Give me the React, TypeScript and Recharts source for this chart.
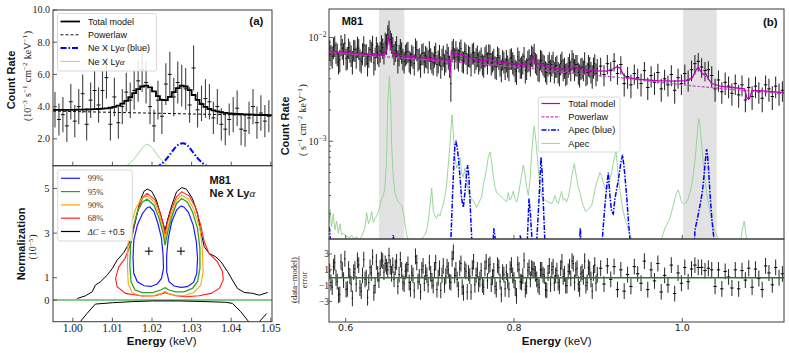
import React from 'react';
import { ComposedChart, Line, Scatter, XAxis, YAxis, ErrorBar, ReferenceArea, ReferenceLine } from 'recharts';

const W = 789;
const H = 353;
const SANS = '"Liberation Sans", Arial, sans-serif';
const SERIF = '"Liberation Serif", "DejaVu Serif", serif';
const DSANS = '"DejaVu Sans", sans-serif';

// ================= Panel (a) top: Ne X Ly-alpha zoom =================
const aE = [0.9955, 0.9965, 0.9975, 0.9985, 0.9995, 1.0005, 1.0015, 1.0025, 1.0035, 1.0045,
  1.0055, 1.0065, 1.0075, 1.0085, 1.0095, 1.0105, 1.0115, 1.0125, 1.0135, 1.0145,
  1.0155, 1.0165, 1.0175, 1.0185, 1.0195, 1.0205, 1.0215, 1.0225, 1.0235, 1.0245,
  1.0255, 1.0265, 1.0275, 1.0285, 1.0295, 1.0305, 1.0315, 1.0325, 1.0335, 1.0345,
  1.0355, 1.0365, 1.0375, 1.0385, 1.0395, 1.0405, 1.0415, 1.0425, 1.0435, 1.0445,
  1.0455, 1.0465, 1.0475, 1.0485, 1.0495];
const aRate = [3.8, 3.2, 3.5, 2.8, 4.3, 3.1, 4.0, 4.8, 2.9, 4.4,
  5.0, 4.1, 5.0, 5.8, 2.9, 4.6, 3.0, 4.0, 4.9, 4.4,
  5.0, 5.6, 6.3, 5.5, 4.0, 2.8, 4.4, 3.4, 5.4, 6.0,
  4.6, 5.5, 5.3, 5.1, 4.1, 6.4, 3.8, 4.2, 4.5, 4.3,
  3.3, 4.0, 2.9, 2.6, 3.2, 3.5, 3.9, 2.6, 2.5, 3.3,
  4.0, 3.0, 3.6, 3.1, 3.4];
const aErr = [1.1, 1.0, 1.1, 1.0, 1.1, 1.0, 1.1, 1.2, 1.0, 1.1,
  1.2, 1.1, 1.2, 1.3, 1.0, 1.2, 1.0, 1.1, 1.2, 1.1,
  1.2, 1.3, 1.4, 1.3, 1.1, 1.0, 1.2, 1.1, 1.3, 1.4,
  1.2, 1.3, 1.3, 1.3, 1.1, 1.4, 1.1, 1.1, 1.2, 1.1,
  1.0, 1.1, 1.0, 1.0, 1.0, 1.1, 1.1, 1.0, 1.0, 1.0,
  1.1, 1.0, 1.1, 1.0, 1.0];
const aHalfBin = 0.0005;
const aModel = [3.80, 3.80, 3.80, 3.80, 3.80, 3.80, 3.81, 3.81, 3.82, 3.83,
  3.84, 3.85, 3.87, 3.89, 3.93, 3.98, 4.06, 4.18, 4.36, 4.58,
  4.84, 5.08, 5.25, 5.30, 5.20, 4.95, 4.65, 4.42, 4.40, 4.60,
  4.90, 5.15, 5.30, 5.25, 5.02, 4.72, 4.42, 4.16, 3.98, 3.85,
  3.76, 3.70, 3.65, 3.61, 3.58, 3.56, 3.54, 3.53, 3.52, 3.51,
  3.50, 3.49, 3.48, 3.48, 3.47];
const aPow: [number, number][] = [[0.995, 3.72], [1.0505, 3.44]];
const aGreen: [number, number][] = [[1.0130, 0.2], [1.0140, 0.40], [1.0150, 0.62], [1.0160, 0.92], [1.0170, 1.25], [1.0180, 1.55], [1.0187, 1.66], [1.0195, 1.58], [1.0205, 1.30], [1.0215, 0.95], [1.0225, 0.65], [1.0235, 0.42], [1.0245, 0.25]];
const aBlue: [number, number][] = [[1.0210, 0.2], [1.0222, 0.40], [1.0232, 0.62], [1.0242, 0.92], [1.0252, 1.25], [1.0262, 1.55], [1.0270, 1.68], [1.0278, 1.72], [1.0288, 1.62], [1.0298, 1.35], [1.0308, 1.02], [1.0318, 0.72], [1.0328, 0.48], [1.0338, 0.32], [1.0348, 0.2]];
const aXTicks = [1.0, 1.01, 1.02, 1.03, 1.04, 1.05];
const aYTicks = [2, 4, 6, 8, 10];

// ================= Panel (a) bottom: contours =================
const c99L: [number, number][] = [[1.0194, 4.18], [1.0205, 3.96], [1.0215, 3.43], [1.0224, 2.76], [1.0228, 2.01], [1.0229, 1.42], [1.0224, 0.97], [1.0213, 0.72], [1.0197, 0.61], [1.0180, 0.64], [1.0163, 0.82], [1.0154, 1.19], [1.0152, 1.87], [1.0154, 2.69], [1.0163, 3.36], [1.0176, 3.88], [1.0187, 4.13], [1.0194, 4.18]];
const c99R: [number, number][] = [[1.0273, 4.22], [1.0281, 4.16], [1.0292, 3.93], [1.0304, 3.36], [1.0312, 2.61], [1.0315, 1.87], [1.0313, 1.19], [1.0305, 0.79], [1.0289, 0.60], [1.0273, 0.57], [1.0256, 0.63], [1.0243, 0.82], [1.0237, 1.27], [1.0237, 2.01], [1.0241, 2.76], [1.0250, 3.51], [1.0262, 4.03], [1.0273, 4.22]];
const c95: [number, number][] = [[1.0188, 4.52], [1.0205, 4.25], [1.0218, 3.66], [1.0228, 2.99], [1.0233, 2.46], [1.0239, 2.99], [1.0250, 3.73], [1.0262, 4.33], [1.0275, 4.55], [1.0289, 4.40], [1.0302, 3.96], [1.0315, 3.21], [1.0321, 2.31], [1.0321, 1.42], [1.0315, 0.82], [1.0302, 0.52], [1.0281, 0.37], [1.0260, 0.37], [1.0243, 0.45], [1.0233, 0.55], [1.0222, 0.45], [1.0201, 0.33], [1.0176, 0.33], [1.0157, 0.45], [1.0147, 0.82], [1.0144, 1.57], [1.0146, 2.46], [1.0152, 3.21], [1.0163, 3.96], [1.0176, 4.40], [1.0188, 4.52]];
const c90: [number, number][] = [[1.0188, 4.66], [1.0207, 4.37], [1.0219, 3.81], [1.0229, 3.13], [1.0233, 2.69], [1.0238, 3.13], [1.0249, 3.88], [1.0262, 4.48], [1.0275, 4.70], [1.0292, 4.52], [1.0306, 4.03], [1.0321, 3.21], [1.0327, 2.31], [1.0329, 1.27], [1.0323, 0.67], [1.0306, 0.34], [1.0281, 0.19], [1.0256, 0.22], [1.0241, 0.30], [1.0233, 0.40], [1.0224, 0.30], [1.0201, 0.18], [1.0171, 0.19], [1.0150, 0.33], [1.0140, 0.75], [1.0138, 1.57], [1.0139, 2.46], [1.0146, 3.28], [1.0159, 4.10], [1.0174, 4.55], [1.0188, 4.66]];
const c68: [number, number][] = [[1.0188, 4.78], [1.0208, 4.48], [1.0220, 3.96], [1.0229, 3.36], [1.0233, 2.91], [1.0237, 3.36], [1.0248, 4.03], [1.0262, 4.63], [1.0275, 4.85], [1.0294, 4.67], [1.0309, 4.18], [1.0323, 3.36], [1.0332, 2.61], [1.0344, 2.09], [1.0365, 1.72], [1.0378, 1.27], [1.0380, 0.90], [1.0370, 0.52], [1.0349, 0.30], [1.0319, 0.19], [1.0285, 0.15], [1.0260, 0.19], [1.0233, 0.33], [1.0209, 0.19], [1.0176, 0.18], [1.0133, 0.30], [1.0112, 0.60], [1.0108, 0.97], [1.0116, 1.49], [1.0132, 1.87], [1.0142, 2.31], [1.0150, 2.84], [1.0157, 3.51], [1.0167, 4.18], [1.0177, 4.60], [1.0188, 4.78]];
const cDCup: [number, number][] = [[1.0011, 0.07], [1.0032, 0.19], [1.0049, 0.37], [1.0057, 0.67], [1.0070, 0.82], [1.0087, 1.12], [1.0100, 1.42], [1.0112, 1.79], [1.0129, 2.13], [1.0142, 2.54], [1.0152, 3.06], [1.0160, 3.66], [1.0169, 4.40], [1.0180, 4.88], [1.0188, 4.97], [1.0199, 4.88], [1.0211, 4.48], [1.0222, 3.81], [1.0233, 3.13], [1.0239, 3.58], [1.0250, 4.25], [1.0262, 4.85], [1.0275, 5.04], [1.0287, 4.97], [1.0302, 4.55], [1.0315, 3.88], [1.0323, 3.06], [1.0332, 2.39], [1.0344, 2.09], [1.0361, 1.94], [1.0374, 1.72], [1.0391, 1.27], [1.0403, 0.90], [1.0416, 0.52], [1.0433, 0.34], [1.0454, 0.30], [1.0471, 0.22], [1.0492, 0.34]];
const cDClow: [number, number | null][] = [[1.0019, -0.97], [1.0036, -0.60], [1.0057, -0.18], [1.0100, -0.12], [1.0150, -0.07], [1.0201, -0.04], [1.0268, -0.04], [1.0336, -0.07], [1.0386, -0.10], [1.0403, -0.15], [1.0424, -0.52], [1.0441, -0.90], [1.0446, -1.0], [1.0458, null], [1.0471, -0.97], [1.0489, -0.61]];
const bestFit: [number, number][] = [[1.0192, 2.19], [1.0273, 2.19]];
const aBotYTicks = [0, 1, 3, 5];

// ================= Panel (b): M81 RGS spectrum (units of 1e-3) =================
// coarse-grid bins
const bE = [0.581, 0.584, 0.587, 0.590, 0.593, 0.596, 0.599, 0.602, 0.605, 0.608,
  0.611, 0.614, 0.617, 0.620, 0.623, 0.626, 0.629, 0.632, 0.635, 0.638,
  0.641, 0.644, 0.647, 0.650, 0.653, 0.656, 0.659, 0.662, 0.665, 0.668,
  0.671, 0.674, 0.677, 0.680, 0.683, 0.686, 0.689, 0.692, 0.695, 0.698,
  0.701, 0.704, 0.707, 0.710, 0.713, 0.716, 0.719, 0.722, 0.725, 0.728,
  0.731, 0.734, 0.737, 0.740, 0.743, 0.746, 0.749, 0.752, 0.755, 0.758,
  0.761, 0.764, 0.767, 0.770, 0.773, 0.776, 0.779, 0.782, 0.785, 0.788,
  0.791, 0.794, 0.797, 0.800, 0.803, 0.806, 0.809, 0.812, 0.815, 0.818,
  0.821, 0.824, 0.827, 0.830, 0.833, 0.836, 0.839, 0.842, 0.845, 0.848,
  0.851, 0.854, 0.857, 0.860, 0.863, 0.866, 0.869, 0.872, 0.875, 0.878,
  0.881, 0.884, 0.887, 0.890, 0.893, 0.896, 0.899,
  0.903, 0.907, 0.911, 0.915, 0.919, 0.923, 0.927, 0.931, 0.935, 0.939,
  0.943, 0.947, 0.951, 0.955, 0.959, 0.963, 0.967, 0.971, 0.975, 0.979,
  0.983, 0.987, 0.991, 0.995, 0.999, 1.003, 1.007, 1.011, 1.015, 1.019,
  1.023, 1.027, 1.031, 1.035, 1.039, 1.043, 1.047, 1.051, 1.055, 1.059,
  1.063, 1.067, 1.071, 1.075, 1.079, 1.083, 1.087, 1.091, 1.095, 1.099,
  1.103, 1.107, 1.111, 1.115, 1.119];
const bRate = [7.8, 6.6, 8.4, 7.0, 6.1, 7.9, 8.8, 6.5, 7.4, 5.9,
  7.6, 8.3, 6.2, 7.1, 6.9, 5.6, 7.7, 8.5, 6.4, 7.2,
  7.4, 8.0, 9.1, 10.8, 9.6, 8.2, 7.5, 6.0, 7.9, 6.3,
  6.9, 7.4, 5.8, 6.6, 8.0, 6.2, 5.5, 7.1, 6.7, 6.0,
  6.4, 5.7, 7.2, 6.0, 5.3, 6.8, 6.1, 6.5, 3.6, 7.9,
  7.5, 6.2, 7.8, 5.9, 7.0, 6.8, 5.6, 7.2, 6.4, 5.8,
  6.5, 5.4, 6.9, 7.0, 5.7, 6.3, 5.2, 6.4, 4.9, 5.9,
  6.1, 5.0, 6.4, 5.5, 4.7, 6.0, 5.3, 6.6, 5.1, 6.2,
  6.8, 7.1, 5.6, 4.9, 6.0, 5.4, 4.6, 5.8, 5.5, 4.7,
  5.4, 4.5, 5.9, 5.2, 4.6, 5.7, 6.2, 5.0, 5.5, 4.4,
  5.2, 5.8, 4.6, 5.3, 4.3, 5.6, 5.0,
  5.3, 4.4, 5.6, 4.8, 5.9, 4.5, 5.5, 3.6, 4.2, 3.5,
  4.5, 4.1, 3.6, 4.8, 3.3, 4.3, 3.7, 4.6, 3.2, 4.0,
  3.5, 4.4, 3.1, 4.1, 3.6, 4.5, 3.9, 4.9, 5.6, 5.9,
  5.2, 4.8, 4.9, 4.3, 3.2, 3.9, 3.0, 3.7, 3.4, 2.9,
  3.6, 2.8, 3.5, 2.5, 3.3, 2.7, 3.4, 3.0, 2.6, 3.5,
  3.2, 2.7, 3.4, 2.9, 3.1];
const bErr = [1.8, 1.6, 1.9, 1.7, 1.5, 1.8, 2.0, 1.6, 1.7, 1.5,
  1.8, 1.9, 1.5, 1.7, 1.7, 1.4, 1.8, 1.9, 1.6, 1.7,
  1.7, 1.8, 2.0, 2.3, 2.1, 1.9, 1.7, 1.5, 1.8, 1.5,
  1.6, 1.7, 1.4, 1.6, 1.8, 1.5, 1.4, 1.7, 1.6, 1.5,
  1.5, 1.4, 1.7, 1.5, 1.3, 1.6, 1.5, 1.6, 1.2, 1.8,
  1.7, 1.5, 1.8, 1.4, 1.6, 1.6, 1.4, 1.7, 1.5, 1.4,
  1.5, 1.3, 1.6, 1.6, 1.4, 1.5, 1.3, 1.5, 1.2, 1.4,
  1.5, 1.2, 1.5, 1.3, 1.2, 1.4, 1.3, 1.5, 1.2, 1.5,
  1.6, 1.6, 1.3, 1.2, 1.4, 1.3, 1.1, 1.4, 1.3, 1.1,
  1.3, 1.1, 1.4, 1.2, 1.1, 1.3, 1.4, 1.2, 1.3, 1.1,
  1.2, 1.4, 1.1, 1.2, 1.1, 1.3, 1.2,
  1.1, 1.0, 1.2, 1.0, 1.2, 1.0, 1.1, 0.9, 1.0, 0.9,
  1.0, 0.9, 0.9, 1.0, 0.8, 1.0, 0.9, 1.0, 0.8, 0.9,
  0.8, 1.0, 0.8, 0.9, 0.8, 1.0, 0.9, 1.1, 1.2, 1.2,
  1.1, 1.0, 1.0, 1.0, 0.8, 0.9, 0.7, 0.9, 0.8, 0.7,
  0.8, 0.7, 0.8, 0.6, 0.8, 0.7, 0.8, 0.7, 0.7, 0.8,
  0.8, 0.7, 0.8, 0.7, 0.7];
const bRes = [0.8, -1.2, 1.9, -0.5, -2.1, 1.0, 2.4, -1.4, 0.2, -2.6,
  1.1, 2.2, -1.3, 0.3, -0.2, -2.5, 1.3, 2.6, -1.0, 0.5,
  1.2, 2.1, 1.8, 1.0, 1.4, 1.6, 1.3, -1.1, 2.3, -0.6,
  0.8, 1.7, -1.4, 0.3, 2.7, -0.5, -1.8, 1.5, 0.7, -0.9,
  0.5, -1.0, 1.9, 0.0, -1.6, 1.5, 0.2, 1.0, -0.6, 3.2,
  1.0, -1.5, 1.8, -1.9, 0.8, 0.6, -1.8, 2.0, 0.3, -0.8,
  0.9, -1.2, 2.0, 1.5, -0.8, 0.9, -1.5, 1.3, -2.1, 0.4,
  0.7, -1.5, 1.6, -0.3, -2.3, 1.0, -0.6, 2.2, -1.1, 1.3,
  1.2, 1.0, -0.2, -1.2, 1.0, 0.2, -1.6, 1.5, 1.0, -0.7,
  0.9, -1.1, 2.0, 0.5, -1.0, 1.4, 2.1, -0.6, 1.2, -1.4,
  0.7, 2.1, -0.6, 1.1, -1.7, 1.6, 0.4,
  1.2, -0.8, 1.5, -0.2, 1.4, -1.5, 1.0, -1.7, 0.4, -1.1,
  1.4, 0.5, -0.7, 2.1, -1.5, 1.0, -0.4, 1.8, -1.8, 0.3,
  -0.9, 1.6, -2.0, 0.6, -0.7, 1.3, -0.5, 1.1, 1.6, 1.3,
  1.3, 0.9, 1.2, 1.0, -1.1, 1.0, -1.4, 0.8, 0.1, -1.3,
  1.0, -1.4, 0.9, -0.3, 1.2, -1.2, 1.1, -0.1, -1.5, 1.5,
  0.6, -0.9, 1.3, 0.0, 0.5];
// interleaved fine bins (0.58 - 0.90 keV)
const bE2 = [0.5825, 0.5855, 0.5885, 0.5915, 0.5945, 0.5975, 0.6005, 0.6035, 0.6065, 0.6095,
  0.6125, 0.6155, 0.6185, 0.6215, 0.6245, 0.6275, 0.6305, 0.6335, 0.6365, 0.6395,
  0.6425, 0.6455, 0.6485, 0.6515, 0.6545, 0.6575, 0.6605, 0.6635, 0.6665, 0.6695,
  0.6725, 0.6755, 0.6785, 0.6815, 0.6845, 0.6875, 0.6905, 0.6935, 0.6965, 0.6995,
  0.7025, 0.7055, 0.7085, 0.7115, 0.7145, 0.7175, 0.7205, 0.7235, 0.7265, 0.7295,
  0.7325, 0.7355, 0.7385, 0.7415, 0.7445, 0.7475, 0.7505, 0.7535, 0.7565, 0.7595,
  0.7625, 0.7655, 0.7685, 0.7715, 0.7745, 0.7775, 0.7805, 0.7835, 0.7865, 0.7895,
  0.7925, 0.7955, 0.7985, 0.8015, 0.8045, 0.8075, 0.8105, 0.8135, 0.8165, 0.8195,
  0.8225, 0.8255, 0.8285, 0.8315, 0.8345, 0.8375, 0.8405, 0.8435, 0.8465, 0.8495,
  0.8525, 0.8555, 0.8585, 0.8615, 0.8645, 0.8675, 0.8705, 0.8735, 0.8765, 0.8795,
  0.8825, 0.8855, 0.8885, 0.8915, 0.8945, 0.8975];
const bRate2 = [6.9, 8.1, 7.3, 5.8, 8.6, 7.1, 6.3, 8.0, 6.8, 7.7,
  6.5, 7.9, 5.9, 8.4, 7.0, 6.6, 7.4, 5.7, 8.2, 6.8,
  8.6, 7.2, 8.8, 12.0, 9.0, 7.0, 8.4, 6.9, 7.3, 5.9,
  7.2, 6.0, 6.9, 5.6, 7.6, 6.4, 7.0, 5.9, 6.5, 7.5,
  5.9, 6.7, 5.5, 6.9, 6.3, 5.6, 7.1, 5.4, 7.5, 6.4,
  6.5, 7.4, 6.0, 7.3, 5.7, 6.6, 7.1, 5.9, 6.8, 6.1,
  5.6, 6.6, 5.8, 6.9, 6.0, 5.3, 6.7, 5.5, 6.2, 5.1,
  5.4, 6.3, 5.8, 4.9, 6.5, 5.2, 5.7, 4.8, 6.0, 5.5,
  6.6, 5.8, 5.0, 6.2, 5.6, 4.8, 5.5, 4.9, 5.9, 5.3,
  4.7, 5.6, 5.0, 4.5, 5.3, 4.9, 5.8, 5.5, 4.6, 5.1,
  4.9, 4.4, 5.5, 4.7, 5.2, 4.5];
const bErr2 = [1.6, 1.9, 1.7, 1.4, 2.0, 1.7, 1.5, 1.8, 1.6, 1.8,
  1.5, 1.8, 1.4, 1.9, 1.6, 1.5, 1.7, 1.4, 1.9, 1.6,
  1.9, 1.7, 2.0, 2.5, 2.0, 1.6, 1.9, 1.6, 1.7, 1.4,
  1.7, 1.4, 1.6, 1.3, 1.7, 1.5, 1.6, 1.4, 1.5, 1.7,
  1.4, 1.6, 1.3, 1.6, 1.5, 1.3, 1.6, 1.3, 1.7, 1.5,
  1.5, 1.7, 1.4, 1.7, 1.3, 1.5, 1.6, 1.4, 1.6, 1.4,
  1.3, 1.5, 1.4, 1.6, 1.4, 1.3, 1.5, 1.3, 1.4, 1.2,
  1.3, 1.4, 1.4, 1.2, 1.5, 1.2, 1.3, 1.2, 1.4, 1.3,
  1.5, 1.3, 1.2, 1.4, 1.3, 1.1, 1.3, 1.2, 1.4, 1.2,
  1.1, 1.3, 1.2, 1.1, 1.2, 1.1, 1.3, 1.3, 1.1, 1.2,
  1.1, 1.0, 1.3, 1.1, 1.2, 1.1];
const bRes2 = [-0.6, 1.4, 0.0, -2.2, 2.0, -0.3, -1.5, 1.1, -0.8, 0.7,
  -0.8, 1.6, -1.7, 2.3, 0.0, -0.6, 0.6, -1.9, 2.0, -0.3,
  2.3, 0.7, 1.4, 2.8, 0.5, -0.2, 2.0, 0.4, 1.0, -0.8,
  1.0, -0.6, 0.6, -1.6, 1.9, 0.1, 1.0, -0.7, 0.3, 1.9,
  -0.4, 1.0, -1.5, 1.2, 0.3, -0.9, 1.4, -0.5, 2.4, 0.3,
  -0.2, 1.2, -1.2, 1.1, -1.8, 0.2, 1.2, -0.9, 1.0, -0.2,
  -0.9, 1.2, -0.4, 1.7, 0.1, -1.1, 1.6, -0.5, 0.7, -1.4,
  -0.4, 1.1, 0.3, -1.3, 1.7, -0.5, 0.2, -1.5, 0.9, -0.2,
  1.1, 0.5, -0.9, 1.0, 0.4, -1.5, 0.6, -0.8, 1.4, 0.3,
  -0.6, 1.2, 0.1, -1.0, 0.8, -0.1, 1.8, 1.0, -0.8, 0.5,
  0.1, -1.0, 1.3, -0.2, 0.6, -0.7];
const bHalfBinLow = 0.00075;
const bHalfBinHigh = 0.002;
const bPow: [number, number][] = [[0.58, 7.2], [0.65, 6.5], [0.7235, 5.85], [0.7245, 4.3], [0.7255, 5.85], [0.80, 5.25], [0.85, 4.7], [0.92, 4.15], [1.0, 3.5], [1.06, 3.15], [1.121, 2.88]];
const bTot: [number, number][] = [[0.58, 7.35], [0.60, 7.15], [0.62, 6.95], [0.640, 6.78], [0.646, 6.75], [0.649, 7.6], [0.651, 10.3], [0.653, 8.6], [0.655, 7.3], [0.658, 6.85], [0.670, 6.65], [0.690, 6.4], [0.710, 6.15], [0.7235, 6.0], [0.7245, 4.6], [0.7255, 7.3], [0.728, 6.8], [0.731, 7.0], [0.735, 6.7], [0.738, 6.9], [0.742, 6.5], [0.75, 6.3], [0.76, 6.0], [0.768, 6.0], [0.771, 6.4], [0.775, 5.9], [0.79, 5.7], [0.81, 5.5], [0.818, 5.6], [0.823, 6.4], [0.826, 5.7], [0.84, 5.2], [0.855, 4.95], [0.868, 5.0], [0.872, 5.3], [0.876, 5.0], [0.89, 4.8], [0.91, 4.75], [0.918, 5.0], [0.922, 5.2], [0.926, 5.1], [0.93, 4.4], [0.934, 4.1], [0.95, 3.95], [0.97, 3.85], [0.99, 3.8], [1.005, 3.85], [1.012, 4.1], [1.016, 4.8], [1.019, 5.2], [1.022, 4.7], [1.025, 4.4], [1.028, 4.5], [1.031, 4.0], [1.035, 3.6], [1.045, 3.4], [1.06, 3.3], [1.074, 3.2], [1.077, 2.6], [1.080, 2.6], [1.083, 3.1], [1.1, 3.05], [1.121, 2.95]];
const bGreen: [number, number][] = [[0.5802, 0.16], [0.5814, 0.22], [0.5833, 0.15], [0.5853, 0.20], [0.5873, 0.14], [0.5893, 0.17], [0.5913, 0.13], [0.5933, 0.16], [0.5952, 0.125], [0.5972, 0.13], [0.6012, 0.12], [0.6052, 0.118], [0.6071, 0.125], [0.6091, 0.115], [0.6131, 0.12], [0.6150, 0.112], [0.6190, 0.12], [0.6230, 0.15], [0.6250, 0.205], [0.6270, 0.16], [0.6289, 0.175], [0.6309, 0.21], [0.6329, 0.165], [0.6348, 0.18], [0.6368, 0.19], [0.6388, 0.21], [0.6408, 0.24], [0.6428, 0.28], [0.6448, 0.30], [0.6467, 0.36], [0.6487, 0.70], [0.6499, 2.2], [0.6519, 4.2], [0.6535, 2.5], [0.6547, 0.9], [0.6566, 0.45], [0.6586, 0.32], [0.6606, 0.28], [0.6626, 0.26], [0.6645, 0.25], [0.6665, 0.24], [0.6685, 0.21], [0.6705, 0.16], [0.6725, 0.125], [0.6745, 0.11], [0.6785, 0.10], [0.6823, 0.105], [0.6863, 0.11], [0.6903, 0.112], [0.6923, 0.12], [0.6943, 0.125], [0.6963, 0.14], [0.6982, 0.17], [0.7002, 0.24], [0.7022, 0.355], [0.7042, 0.21], [0.7062, 0.19], [0.7081, 0.18], [0.7101, 0.2], [0.7121, 0.19], [0.7141, 0.22], [0.7161, 0.25], [0.7181, 0.3], [0.7200, 0.38], [0.7220, 0.6], [0.7240, 0.95], [0.7260, 1.65], [0.7265, 1.8], [0.7279, 1.2], [0.7299, 0.7], [0.7319, 0.55], [0.7339, 0.6], [0.7359, 0.7], [0.7378, 0.5], [0.7398, 0.45], [0.7418, 0.55], [0.7438, 0.45], [0.7458, 0.32], [0.7497, 0.28], [0.7537, 0.25], [0.7557, 0.23], [0.7577, 0.25], [0.7616, 0.29], [0.7636, 0.38], [0.7656, 0.45], [0.7675, 0.55], [0.7695, 0.7], [0.7715, 0.79], [0.7735, 0.63], [0.7755, 0.45], [0.7775, 0.36], [0.7795, 0.32], [0.7814, 0.31], [0.7854, 0.29], [0.7893, 0.27], [0.7913, 0.26], [0.7933, 0.32], [0.7953, 0.27], [0.7972, 0.29], [0.7992, 0.33], [0.8012, 0.28], [0.8032, 0.26], [0.8052, 0.30], [0.8072, 0.38], [0.8092, 0.48], [0.8111, 0.59], [0.8131, 0.48], [0.8151, 0.36], [0.8171, 0.30], [0.8190, 0.42], [0.8210, 0.75], [0.8230, 1.2], [0.8242, 1.4], [0.8250, 1.2], [0.8270, 0.85], [0.8290, 0.52], [0.8309, 0.36], [0.8329, 0.30], [0.8349, 0.28], [0.8369, 0.27], [0.8408, 0.26], [0.8448, 0.25], [0.8468, 0.27], [0.8488, 0.30], [0.8508, 0.26], [0.8527, 0.25], [0.8566, 0.33], [0.8586, 0.27], [0.8606, 0.28], [0.8625, 0.26], [0.8645, 0.29], [0.8665, 0.35], [0.8685, 0.45], [0.8705, 0.55], [0.8717, 0.61], [0.8730, 0.52], [0.8744, 0.45], [0.8764, 0.36], [0.8784, 0.32], [0.8804, 0.27], [0.8824, 0.24], [0.8851, 0.21], [0.8883, 0.22], [0.8923, 0.24], [0.8942, 0.28], [0.8962, 0.34], [0.8982, 0.40], [0.9002, 0.44], [0.9022, 0.50], [0.9042, 0.46], [0.9061, 0.40], [0.9081, 0.36], [0.9101, 0.34], [0.9121, 0.38], [0.9141, 0.44], [0.9160, 0.50], [0.9180, 0.62], [0.9200, 0.73], [0.9212, 0.82], [0.9230, 0.58], [0.9240, 0.45], [0.9260, 0.33], [0.9279, 0.26], [0.9299, 0.21], [0.9319, 0.18], [0.9339, 0.16], [0.9359, 0.14], [0.9378, 0.125], [0.9398, 0.115], [0.9438, 0.10], [0.9550, 0.09], [0.9700, 0.09], [0.9735, 0.10], [0.9755, 0.115], [0.9775, 0.13], [0.9794, 0.145], [0.9814, 0.155], [0.9834, 0.17], [0.9854, 0.18], [0.9873, 0.21], [0.9893, 0.24], [0.9913, 0.28], [0.9933, 0.32], [0.9953, 0.34], [0.9972, 0.30], [0.9992, 0.26], [1.0012, 0.25], [1.0032, 0.25], [1.0051, 0.26], [1.0071, 0.28], [1.0091, 0.32], [1.0111, 0.38], [1.0131, 0.48], [1.0151, 0.65], [1.0171, 1.0], [1.0190, 1.55], [1.0198, 1.65], [1.0210, 1.45], [1.0230, 0.95], [1.0250, 0.6], [1.0270, 0.42], [1.0289, 0.32], [1.0309, 0.26], [1.0329, 0.21], [1.0349, 0.17], [1.0369, 0.15], [1.0389, 0.135], [1.0408, 0.125], [1.0428, 0.115], [1.0468, 0.105], [1.0600, 0.10], [1.0685, 0.105], [1.0705, 0.125], [1.0720, 0.15], [1.0737, 0.17], [1.0750, 0.14], [1.0765, 0.115], [1.0800, 0.10], [1.1000, 0.10], [1.1210, 0.10]];
const bBlue: [number, number][] = [[0.5800, 0.15], [0.5810, 0.14], [0.5822, 0.10], [0.5835, 0.05], [0.6540, 0.05], [0.6556, 0.10], [0.6566, 0.125], [0.6578, 0.10], [0.6592, 0.05], [0.7235, 0.05], [0.7252, 0.12], [0.7270, 0.30], [0.7285, 0.6], [0.7299, 0.92], [0.7311, 0.98], [0.7325, 0.88], [0.7339, 0.70], [0.7359, 0.45], [0.7378, 0.28], [0.7398, 0.23], [0.7418, 0.32], [0.7438, 0.50], [0.7450, 0.59], [0.7465, 0.44], [0.7478, 0.26], [0.7497, 0.12], [0.7512, 0.05], [0.7735, 0.05], [0.7750, 0.10], [0.7760, 0.145], [0.7775, 0.12], [0.7790, 0.05], [0.8050, 0.05], [0.8062, 0.10], [0.8075, 0.125], [0.8088, 0.10], [0.8100, 0.05], [0.8150, 0.07], [0.8165, 0.15], [0.8179, 0.28], [0.8195, 0.20], [0.8210, 0.13], [0.8222, 0.08], [0.8265, 0.09], [0.8282, 0.16], [0.8300, 0.30], [0.8321, 0.70], [0.8335, 0.50], [0.8349, 0.25], [0.8365, 0.12], [0.8380, 0.05], [0.8765, 0.05], [0.8778, 0.10], [0.8788, 0.145], [0.8800, 0.10], [0.8812, 0.05], [0.9030, 0.05], [0.9045, 0.10], [0.9061, 0.15], [0.9081, 0.24], [0.9101, 0.36], [0.9121, 0.50], [0.9140, 0.30], [0.9160, 0.21], [0.9180, 0.20], [0.9200, 0.28], [0.9240, 0.42], [0.9270, 0.62], [0.9291, 0.74], [0.9310, 0.55], [0.9339, 0.30], [0.9360, 0.17], [0.9378, 0.115], [0.9400, 0.05], [1.0130, 0.05], [1.0151, 0.14], [1.0180, 0.18], [1.0210, 0.24], [1.0240, 0.33], [1.0260, 0.48], [1.0275, 0.65], [1.0289, 0.84], [1.0300, 0.74], [1.0315, 0.50], [1.0329, 0.32], [1.0349, 0.19], [1.0369, 0.13], [1.0389, 0.09], [1.0400, 0.05], [1.1210, 0.05]];
const bBands: [number, number][] = [[0.6396, 0.6697], [1.001, 1.041]];
const bXTicks = [0.6, 0.8, 1.0];
const bYMajor = [1, 10];
const bYMinor = [0.2, 0.3, 0.4, 0.5, 0.6, 0.7, 0.8, 0.9, 2, 3, 4, 5, 6, 7, 8, 9];
const rYTicks = [-3, -1, 1, 3];

// ================= derived tables =================
const pts = (p: [number, number | null][]) => p.map(([x, y]) => ({ x, y }));
const aData = aE.map((x, i) => ({ x, y: aRate[i], yerr: aErr[i], xerr: aHalfBin }));
const aModelData = [{ x: 0.995, y: aModel[0] }, ...aE.map((x, i) => ({ x, y: aModel[i] })), { x: 1.0505, y: aModel[aModel.length - 1] }];
const hw = (x: number) => (x < 0.9 ? bHalfBinLow : bHalfBinHigh);
const bData = [
  ...bE.map((x, i) => ({ x, y: bRate[i], yerr: bErr[i], xerr: hw(x) })),
  ...bE2.map((x, i) => ({ x, y: bRate2[i], yerr: bErr2[i], xerr: hw(x) })),
];
const rData = [
  ...bE.map((x, i) => ({ x, y: bRes[i], yerr: 1, xerr: hw(x) })),
  ...bE2.map((x, i) => ({ x, y: bRes2[i], yerr: 1, xerr: hw(x) })),
];

// ================= helpers =================
const TICKC = '#333';
const NoDot = () => <g />;
const Plus = (p: any) => (
  <g>
    <line x1={p.cx - 4} x2={p.cx + 4} y1={p.cy} y2={p.cy} stroke="#000" strokeWidth={1} />
    <line x1={p.cx} x2={p.cx} y1={p.cy - 4} y2={p.cy + 4} stroke="#000" strokeWidth={1} />
  </g>
);

const leftTick = (len: number, fmt: (v: number) => any, font: string, size: number, gap: number) => (p: any) => {
  const { x, y, payload } = p;
  const lab = fmt(payload.value);
  return (
    <g>
      <line x1={x} x2={x + len} y1={y} y2={y} stroke={TICKC} strokeWidth={0.8} />
      {lab !== null ? (
        <text x={x - gap} y={y + size * 0.34} textAnchor="end" fontFamily={font} fontSize={size} fill="#222">{lab}</text>
      ) : null}
    </g>
  );
};
const bottomTick = (len: number, fmt: (v: number) => any, font: string, size: number, gap: number) => (p: any) => {
  const { x, y, payload } = p;
  const lab = fmt(payload.value);
  return (
    <g>
      <line x1={x} x2={x} y1={y} y2={y - len} stroke={TICKC} strokeWidth={0.8} />
      {lab !== null ? (
        <text x={x} y={y + gap + size * 0.72} textAnchor="middle" fontFamily={font} fontSize={size} fill="#222">{lab}</text>
      ) : null}
    </g>
  );
};
const LogTick = (p: any) => {
  const { x, y, payload } = p;
  const v = payload.value;
  const major = v === 1 || v === 10;
  return (
    <g>
      <line x1={x} x2={x + (major ? 4 : 2)} y1={y} y2={y} stroke={TICKC} strokeWidth={0.8} />
      {major ? (
        <text x={x - 2.5} y={y + 3.5} textAnchor="end" fontFamily={SERIF} fontSize={10} fill="#222">
          10<tspan dy={-4} fontSize={7.5}>{v === 10 ? '\u22122' : '\u22123'}</tspan>
        </text>
      ) : null}
    </g>
  );
};
const none = () => null;
const axisCommon = { axisLine: false, tickLine: false, tickSize: 0, tickMargin: 0, interval: 0 as const, allowDataOverflow: true, type: 'number' as const };

const posStyle: React.CSSProperties = { position: 'absolute', left: 0, top: 0 };

function PanelATop() {
  return (
    <div style={posStyle}>
      <ComposedChart width={W} height={H} margin={{ top: 10, right: 517, bottom: 167.3, left: 13 }}>
        <XAxis {...axisCommon} dataKey="x" domain={[0.995, 1.0503]} ticks={aXTicks} height={20} tick={bottomTick(4, none, SERIF, 10, 3)} />
        <YAxis {...axisCommon} dataKey="y" domain={[0.33, 10]} ticks={aYTicks} width={40} tick={leftTick(4, (v) => v.toFixed(1), SERIF, 10, 3)} />
        <Line data={pts(aGreen)} dataKey="y" type="monotone" stroke="#8fd18f" strokeWidth={0.9} dot={false} isAnimationActive={false} />
        <Line data={pts(aBlue)} dataKey="y" type="monotone" stroke="#0000ff" strokeWidth={2} strokeDasharray="6 2 1.5 2" dot={false} isAnimationActive={false} />
        <Scatter data={aData} dataKey="y" shape={NoDot} isAnimationActive={false}>
          <ErrorBar dataKey="yerr" direction="y" width={0} stroke="#222" strokeWidth={1.1} strokeOpacity={0.85} />
          <ErrorBar dataKey="xerr" direction="x" width={0} stroke="#111" strokeWidth={1} />
        </Scatter>
        <Line data={pts(aPow)} dataKey="y" type="linear" stroke="#111" strokeWidth={1} strokeDasharray="3 2" dot={false} isAnimationActive={false} />
        <Line data={aModelData} dataKey="y" type="step" stroke="#000" strokeWidth={1.8} dot={false} isAnimationActive={false} />
      </ComposedChart>
    </div>
  );
}

function PanelABottom() {
  const lines: [string, [number, number | null][], number][] = [
    ['#000', cDCup, 1], ['#000', cDClow, 1], ['#ff2020', c68, 1.1], ['#ffa500', c90, 1.1], ['#2ca02c', c95, 1.3], ['#1a1aff', c99L, 1.2], ['#1a1aff', c99R, 1.2],
  ];
  return (
    <div style={posStyle}>
      <ComposedChart width={W} height={H} margin={{ top: 165.7, right: 517, bottom: 11.3, left: 13 }}>
        <XAxis {...axisCommon} dataKey="x" domain={[0.995, 1.0503]} ticks={aXTicks} height={20} tick={bottomTick(4, (v) => v.toFixed(2), SERIF, 11.5, 2.5)} />
        <YAxis {...axisCommon} dataKey="y" domain={[-0.97, 6.02]} ticks={aBotYTicks} width={40} tick={leftTick(4, (v) => String(v), SERIF, 10.5, 3.5)} />
        <ReferenceLine y={0} stroke="#5cb85c" strokeWidth={1.6} />
        {lines.map(([c, d, w], i) => (
          <Line key={i} data={pts(d)} dataKey="y" type="linear" stroke={c} strokeWidth={w} dot={false} connectNulls={false} isAnimationActive={false} />
        ))}
        <Scatter data={pts(bestFit)} dataKey="y" shape={Plus} isAnimationActive={false} />
      </ComposedChart>
    </div>
  );
}

function PanelBTop() {
  return (
    <div style={posStyle}>
      <ComposedChart width={W} height={H} margin={{ top: 9, right: 5, bottom: 94, left: 289 }}>
        <XAxis {...axisCommon} dataKey="x" domain={[0.5802, 1.1209]} ticks={bXTicks} height={20} tick={bottomTick(4, none, DSANS, 9.5, 3)} />
        <YAxis {...axisCommon} dataKey="y" scale="log" domain={[0.1143, 18.84]} ticks={[...bYMinor, ...bYMajor]} width={40} tick={LogTick} />
        {bBands.map(([a, b], i) => (
          <ReferenceArea key={i} x1={a} x2={b} fill="#d6d6d6" fillOpacity={0.7} stroke="none" ifOverflow="hidden" />
        ))}
        <Line data={pts(bGreen)} dataKey="y" type="linear" stroke="#8fd18f" strokeWidth={0.9} dot={false} isAnimationActive={false} />
        <Line data={pts(bBlue)} dataKey="y" type="linear" stroke="#0000ff" strokeWidth={1.5} strokeDasharray="5 1.5 1.5 1.5" dot={false} isAnimationActive={false} />
        <Scatter data={bData} dataKey="y" shape={NoDot} isAnimationActive={false}>
          <ErrorBar dataKey="yerr" direction="y" width={0} stroke="#000" strokeWidth={1.05} strokeOpacity={0.85} />
          <ErrorBar dataKey="xerr" direction="x" width={0} stroke="#000" strokeWidth={1} />
        </Scatter>
        <Line data={pts(bPow)} dataKey="y" type="linear" stroke="#d040d0" strokeWidth={1.2} strokeDasharray="3 1.5" dot={false} isAnimationActive={false} />
        <Line data={pts(bTot)} dataKey="y" type="linear" stroke="#bf00bf" strokeWidth={1.3} dot={false} isAnimationActive={false} />
      </ComposedChart>
    </div>
  );
}

function PanelBRes() {
  return (
    <div style={posStyle}>
      <ComposedChart width={W} height={H} margin={{ top: 239, right: 5, bottom: 11, left: 289 }}>
        <XAxis {...axisCommon} dataKey="x" domain={[0.5802, 1.1209]} ticks={bXTicks} height={20} tick={bottomTick(4, (v) => v.toFixed(1), DSANS, 9.5, 2.5)} />
        <YAxis {...axisCommon} dataKey="y" domain={[-5.6, 4.9]} ticks={rYTicks} width={40} tick={leftTick(3, (v) => (v < 0 ? '\u2212' + Math.abs(v) : String(v)), SERIF, 9.5, 0)} />
        <Scatter data={rData} dataKey="y" shape={NoDot} isAnimationActive={false}>
          <ErrorBar dataKey="yerr" direction="y" width={0} stroke="#000" strokeWidth={1.05} strokeOpacity={0.82} />
          <ErrorBar dataKey="xerr" direction="x" width={0} stroke="#000" strokeWidth={1} />
        </Scatter>
        <ReferenceLine y={0} stroke="#1e7d1e" strokeWidth={1.3} />
      </ComposedChart>
    </div>
  );
}

const Sup = ({ t }: { t: string }) => (
  <>
    <tspan dy={-3.5} fontSize={7}>{t}</tspan>
    <tspan dy={3.5}>{'\u200a'}</tspan>
  </>
);

function Overlay() {
  const frame = { fill: 'none', stroke: '#3a3a3a', strokeWidth: 1 };
  const legBox = { fill: '#fff', fillOpacity: 0.85, stroke: '#cfcfcf', strokeWidth: 0.8 };
  return (
    <svg width={W} height={H} style={{ position: 'absolute', left: 0, top: 0, pointerEvents: 'none' }}>
      <rect x={53} y={10} width={219} height={155.7} {...frame} />
      <rect x={53} y={165.7} width={219} height={156} {...frame} />
      <rect x={329} y={9} width={455} height={230} {...frame} />
      <rect x={329} y={239} width={455} height={83} {...frame} />

      {/* y-axis titles */}
      <text transform="translate(14.5,80) rotate(-90)" textAnchor="middle" fontFamily={SANS} fontWeight="bold" fontSize={11} fill="#111">Count Rate</text>
      <text transform="translate(30.5,76) rotate(-90)" textAnchor="middle" fontFamily={SERIF} fontSize={10} fill="#222">
        (10<Sup t={'\u22123'} /> s<Sup t={'\u22121'} /> cm<Sup t={'\u22122'} /> keV<Sup t={'\u22121'} />)
      </text>
      <text transform="translate(24.5,244) rotate(-90)" textAnchor="middle" fontFamily={SANS} fontWeight="bold" fontSize={11} fill="#111">Normalization</text>
      <text transform="translate(36,247) rotate(-90)" textAnchor="middle" fontFamily={SERIF} fontSize={10} fill="#222">
        (10<Sup t={'\u22125'} />)
      </text>
      <text transform="translate(289,126) rotate(-90)" textAnchor="middle" fontFamily={SANS} fontWeight="bold" fontSize={11} fill="#111">Count Rate</text>
      <text transform="translate(305.5,120) rotate(-90)" textAnchor="middle" fontFamily={SERIF} fontSize={10} fill="#222">
        ( s<Sup t={'\u22121'} /> cm<Sup t={'\u22122'} /> keV<Sup t={'\u22121'} />)
      </text>
      <g transform="translate(299,280) rotate(-90)">
        <text x={0} y={-2.5} textAnchor="middle" fontFamily={SERIF} fontSize={8.5} fill="#222">(data{'\u2212'}model)</text>
        <line x1={-24} x2={24} y1={0} y2={0} stroke="#222" strokeWidth={0.6} />
        <text x={0} y={8} textAnchor="middle" fontFamily={SERIF} fontSize={8.5} fill="#222">error</text>
      </g>

      {/* x-axis titles */}
      <text x={161.7} y={345} textAnchor="middle" fontFamily={SANS} fontSize={11.5} fill="#111"><tspan fontWeight="bold">Energy</tspan> (keV)</text>
      <text x={556.7} y={345} textAnchor="middle" fontFamily={SANS} fontSize={11.5} fill="#111"><tspan fontWeight="bold">Energy</tspan> (keV)</text>

      {/* annotations */}
      <text x={249.3} y={25} fontFamily={SANS} fontWeight="bold" fontSize={11.5} fill="#111">(a)</text>
      <text x={763} y={25.5} fontFamily={SANS} fontWeight="bold" fontSize={11.5} fill="#111">(b)</text>
      <text x={341.7} y={25} fontFamily={SANS} fontWeight="bold" fontSize={11} fill="#111">M81</text>
      <text x={209.5} y={183.5} fontFamily={SANS} fontWeight="bold" fontSize={11} fill="#111">M81</text>
      <text x={209.5} y={196.8} fontFamily={SANS} fontWeight="bold" fontSize={11} fill="#111">Ne X Ly<tspan fontFamily={SERIF} fontStyle="italic" fontWeight="normal">{'\u03b1'}</tspan></text>

      {/* legend (a) top */}
      <rect x={57.5} y={13.5} width={99} height={57.5} rx={2} {...legBox} />
      <line x1={60.5} x2={80} y1={21.5} y2={21.5} stroke="#000" strokeWidth={1.8} />
      <line x1={60.5} x2={80} y1={34.8} y2={34.8} stroke="#111" strokeWidth={1} strokeDasharray="3 2" />
      <line x1={60.5} x2={80} y1={48.1} y2={48.1} stroke="#0000ff" strokeWidth={2} strokeDasharray="6 2 1.5 2" />
      <line x1={60.5} x2={80} y1={61.4} y2={61.4} stroke="#8fd18f" strokeWidth={0.9} />
      <g fontFamily={SANS} fontSize={9} fill="#111">
        <text x={88} y={24.7}>Total model</text>
        <text x={88} y={38}>Powerlaw</text>
        <text x={88} y={51.3}>Ne X Ly<tspan fontFamily={SERIF} fontStyle="italic">{'\u03b1'}</tspan> (blue)</text>
        <text x={88} y={64.6}>Ne X Ly<tspan fontFamily={SERIF} fontStyle="italic">{'\u03b1'}</tspan></text>
      </g>

      {/* legend (a) bottom */}
      <rect x={57.7} y={170} width={74.6} height={71} rx={2} {...legBox} />
      {([['#1a1aff', '99%'], ['#2ca02c', '95%'], ['#ffa500', '90%'], ['#ff2020', '68%']] as [string, string][]).map(([c, t], i) => (
        <g key={t}>
          <line x1={61} x2={80} y1={178.3 + i * 13.3} y2={178.3 + i * 13.3} stroke={c} strokeWidth={1.2} />
          <text x={87.7} y={181.3 + i * 13.3} fontFamily={SERIF} fontSize={8.5} fill="#333">{t}</text>
        </g>
      ))}
      <line x1={61} x2={80} y1={231.5} y2={231.5} stroke="#000" strokeWidth={1.2} />
      <text x={87.7} y={234.6} fontFamily={SANS} fontSize={8.5} fill="#222"><tspan fontFamily={SERIF} fontStyle="italic">{'\u0394C'}</tspan> = +0.5</text>

      {/* legend (b) */}
      <rect x={538.3} y={97} width={81.7} height={55} rx={2} {...legBox} />
      <line x1={541.5} x2={560} y1={103.5} y2={103.5} stroke="#bf00bf" strokeWidth={1.2} />
      <line x1={541.5} x2={560} y1={116.8} y2={116.8} stroke="#d040d0" strokeWidth={1.2} strokeDasharray="3 1.5" />
      <line x1={541.5} x2={560} y1={130.1} y2={130.1} stroke="#0000ff" strokeWidth={1.5} strokeDasharray="5 1.5 1.5 1.5" />
      <line x1={541.5} x2={560} y1={143.4} y2={143.4} stroke="#8fd18f" strokeWidth={0.9} />
      <g fontFamily={SANS} fontSize={9.2} fill="#111">
        <text x={568.3} y={106.8}>Total model</text>
        <text x={568.3} y={120.1}>Powerlaw</text>
        <text x={568.3} y={133.4}>Apec (blue)</text>
        <text x={568.3} y={146.7}>Apec</text>
      </g>
    </svg>
  );
}

export default function App() {
  return (
    <div style={{ position: 'absolute', left: 0, top: 0, width: W, height: H, background: '#fff', overflow: 'hidden' }}>
      <PanelATop />
      <PanelABottom />
      <PanelBTop />
      <PanelBRes />
      <Overlay />
    </div>
  );
}
